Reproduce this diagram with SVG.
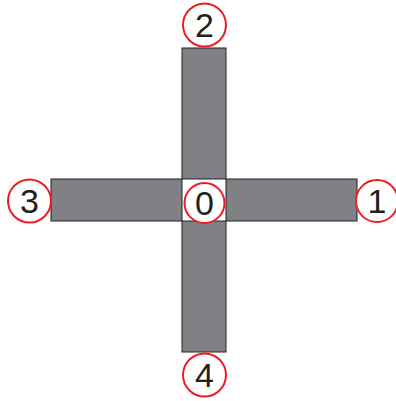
<svg xmlns="http://www.w3.org/2000/svg" width="396" height="401" viewBox="0 0 396 401">
<style>
.arm{fill:#808184;stroke:#231f20;stroke-width:1}
.c{fill:#fff;stroke:#ed1c24;stroke-width:2}
.t{font-family:"Liberation Sans",Arial,sans-serif;font-size:34px;fill:#231f20;text-anchor:middle}
</style>
<rect width="396" height="401" fill="#fff"/>
<g id="arms">
<rect class="arm" x="182" y="48" width="44" height="131"/>
<rect class="arm" x="182" y="221" width="44" height="131"/>
<rect class="arm" x="51" y="179" width="131" height="42"/>
<rect class="arm" x="226" y="179" width="131" height="42"/>
</g>
<g id="n0"><circle class="c" cx="204.5" cy="203" r="20"/><text class="t" x="204.5" y="215">0</text></g>
<g id="n1"><circle class="c" cx="377" cy="201" r="21"/><text class="t" x="377" y="213">1</text></g>
<g id="n2"><circle class="c" cx="204.5" cy="25" r="21.5"/><text class="t" x="204.5" y="37">2</text></g>
<g id="n3"><circle class="c" cx="29.5" cy="201" r="21.5"/><text class="t" x="29.5" y="213">3</text></g>
<g id="n4"><circle class="c" cx="204.5" cy="375" r="21.5"/><text class="t" x="204.5" y="387">4</text></g>
</svg>
